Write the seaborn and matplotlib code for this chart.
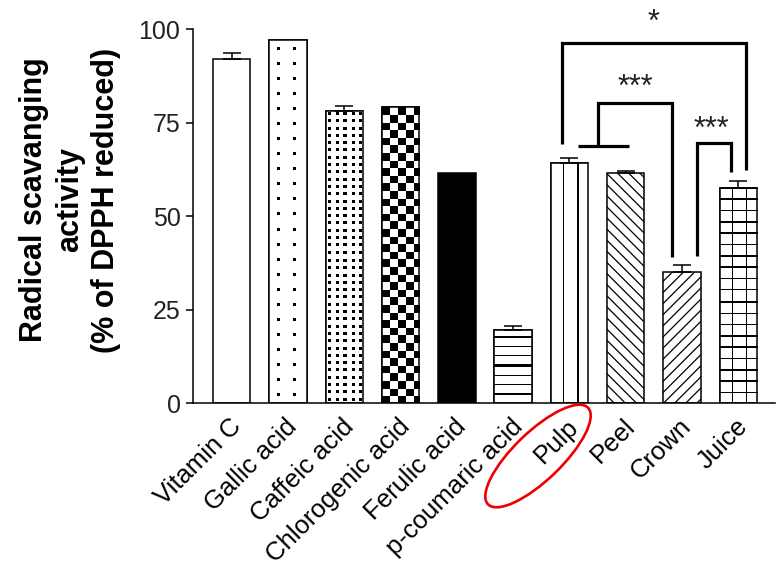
import numpy as np
import pandas as pd
import matplotlib
matplotlib.use("Agg")
import matplotlib.pyplot as plt
import matplotlib.transforms as mtransforms
from matplotlib.patches import Rectangle, Ellipse
import seaborn as sns

# ---------------- data ----------------
categories = ["Vitamin C", "Gallic acid", "Caffeic acid", "Chlorogenic acid",
              "Ferulic acid", "p-coumaric acid", "Pulp", "Peel", "Crown", "Juice"]
values = [92.1, 97.1, 78.2, 79.1, 61.7, 19.6, 64.2, 61.7, 35.2, 57.6]
errors = [1.5, 0.0, 1.4, 0.0, 0.0, 1.1, 1.3, 0.4, 1.8, 1.8]
fills = ["plain", "sparse_dots", "dense_dots", "checker", "solid",
         "hlines", "vlines", "back_diag", "fwd_diag", "grid"]
yticks = [0, 25, 50, 75, 100]
ylabel = "Radical scavanging\nactivity\n(% of DPPH reduced)"

# significance brackets: (x points as (bar index, offset)), y values, star label, star position
brackets = [
    dict(xs=[(6, -0.14), (6, -0.14), (9, 0.14), (9, 0.14)], ys=[69.3, 96.4, 96.4, 62.4],
         label="*", star=(7.5, 99.6)),
    dict(xs=[(6, 0.5), (6, 0.5), (8, -0.17), (8, -0.17)], ys=[68.9, 80.4, 80.4, 39.1],
         label="***", star=(7.17, 82.3)),
    dict(xs=[(8, 0.26), (8, 0.26), (9, -0.135), (9, -0.135)], ys=[39.4, 69.5, 69.5, 61.8],
         label="***", star=(8.53, 70.9)),
]
under_bar = dict(xs=[(6, 0.15), (7, 0.06)], y=68.9)

# ---------------- figure ----------------
W, H, DPI = 783, 570, 100
sns.set_theme(style="ticks")
plt.rcParams["font.family"] = ["Liberation Sans", "DejaVu Sans"]
plt.rcParams["hatch.linewidth"] = 0.9
plt.rcParams["hatch.color"] = "black"

fig = plt.figure(figsize=(W / DPI, H / DPI), dpi=DPI)
ax = fig.add_axes([193 / W, (H - 403.3) / H, (775 - 193) / W, (403.3 - 29.3) / H])

df = pd.DataFrame({"cat": categories, "val": values})
face = {c: ("black" if f == "solid" else "white") for c, f in zip(categories, fills)}
sns.barplot(data=df, x="cat", y="val", hue="cat", palette=face, legend=False,
            width=0.663, edgecolor="black", linewidth=1.1, saturation=1, ax=ax)

ax.set_xlim(-0.6875, 9.652)
ax.set_ylim(0, 100)

patches = sorted(ax.patches, key=lambda p: p.get_x())
centers = np.array([p.get_x() + p.get_width() / 2 for p in patches])


def texture(kind, w, h):
    yy, xx = np.mgrid[0:h, 0:w].astype(float)
    img = np.ones((h, w))
    if kind == "sparse_dots":
        m = (((xx - 7.5) % 15.5) < 3) & (((yy - 7.5) % 15.0) < 3)
    elif kind == "dense_dots":
        m = (((xx - 1.5) % 7.6) < 3) & (((yy - 1.5) % 7.3) < 3)
    elif kind == "checker":
        m = ((np.floor(xx / 7.6) + np.floor(yy / 7.6)) % 2) == 0
    elif kind == "hlines":
        m = ((yy - 7.0) % 9.3) < 1.3
    elif kind == "vlines":
        m = ((xx - 11.5) % 13.2) < 1.4
    elif kind == "grid":
        m = (((xx - 11.5) % 13.0) < 1.5) | (((yy - 11.0) % 11.3) < 1.5)
    else:
        m = np.zeros_like(xx, dtype=bool)
    img[m] = 0.0
    return img


for p, kind in zip(patches, fills):
    if kind == "back_diag":
        p.set_hatch("\\\\\\")
    elif kind == "fwd_diag":
        p.set_hatch("///")
    elif kind in ("sparse_dots", "dense_dots", "checker", "hlines", "vlines", "grid"):
        bb = p.get_window_extent()
        w, h = int(round(bb.width)), int(round(bb.height))
        img = texture(kind, w, h)
        x0, y0 = p.get_x(), p.get_y()
        x1, y1 = x0 + p.get_width(), y0 + p.get_height()
        im = ax.imshow(img, cmap="gray", vmin=0, vmax=1, extent=(x0, x1, y0, y1),
                       origin="upper", interpolation="nearest", aspect="auto",
                       zorder=p.get_zorder() + 0.1)
        im.set_clip_path(p)
        ax.add_patch(Rectangle((x0, y0), p.get_width(), p.get_height(), fill=False,
                               edgecolor="black", linewidth=1.1, zorder=p.get_zorder() + 0.2))

ax.set_xlim(-0.6875, 9.652)
ax.set_ylim(0, 100)

# error bars (upper only)
err = np.array(errors)
sel = err > 0
ax.errorbar(centers[sel], np.array(values)[sel], yerr=[np.zeros(sel.sum()), err[sel]],
            fmt="none", ecolor="black", elinewidth=1.1, capsize=6.8, capthick=1.1, zorder=5)

# brackets
for b in brackets:
    xs = [centers[i] + o for i, o in b["xs"]]
    ax.plot(xs, b["ys"], color="black", lw=2.3, clip_on=False, solid_capstyle="butt",
            solid_joinstyle="miter", zorder=6)
    ax.text(b["star"][0], b["star"][1], b["label"], ha="center", va="baseline",
            fontsize=22, color="#222222", zorder=6)
ux = [centers[i] + o for i, o in under_bar["xs"]]
ax.plot(ux, [under_bar["y"]] * 2, color="black", lw=2.3, clip_on=False,
        solid_capstyle="butt", zorder=6)

# axes styling
sns.despine(ax=ax)
ax.spines["left"].set_linewidth(1.1)
ax.spines["bottom"].set_linewidth(1.1)
ax.spines["left"].set_color("black")
ax.spines["bottom"].set_color("black")
ax.set_yticks(yticks)
ax.set_yticklabels([str(t) for t in yticks], fontsize=18, color="#222222")
ax.tick_params(axis="y", length=5, width=1.1, color="black", pad=4)
ax.tick_params(axis="x", length=0, pad=8)
ax.set_xticks(centers)
ax.set_xticklabels(categories, rotation=45, ha="right", va="top",
                   rotation_mode="anchor", fontsize=18.5, color="black")
shift = mtransforms.ScaledTranslation(-3 / DPI, 0, fig.dpi_scale_trans)
for lab in ax.get_xticklabels():
    lab.set_transform(lab.get_transform() + shift)
ax.set_xlabel("")
ax.set_ylabel(ylabel, fontsize=22, fontweight="bold", color="black",
              linespacing=1.25, va="center", ha="center")
ax.yaxis.set_label_coords((70 - 193) / 582, (403.3 - 200) / 374)
ax.grid(False)
ax.set_facecolor("white")

# red highlight around "Pulp"
ell = Ellipse((5.38, 1.14), 1.39, 0.48, angle=44, transform=fig.dpi_scale_trans,
              fill=False, edgecolor="#ee0000", linewidth=1.9, clip_on=False)
fig.add_artist(ell)

fig.savefig("out.png", dpi=DPI, facecolor="white")
